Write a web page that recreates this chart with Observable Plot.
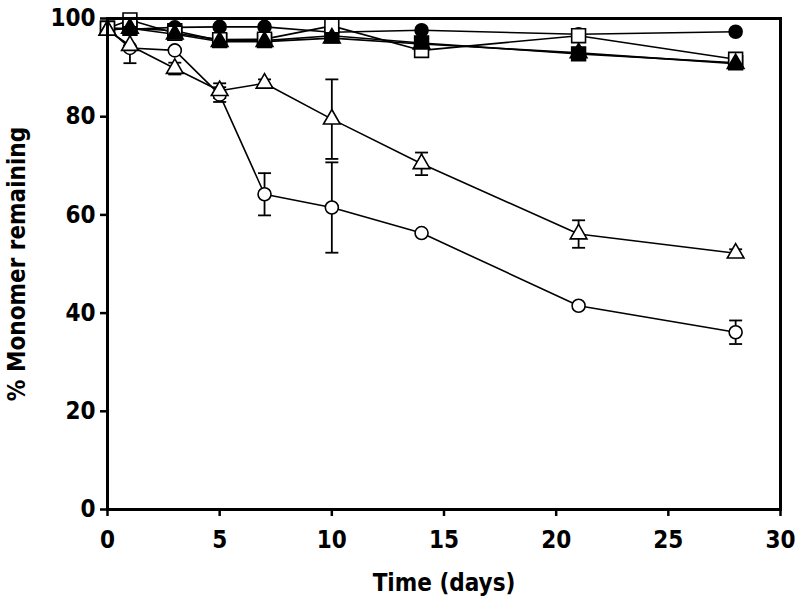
<!DOCTYPE html>
<html>
<head>
<meta charset="utf-8">
<script src="https://cdn.jsdelivr.net/npm/d3@7"></script>
<script src="https://cdn.jsdelivr.net/npm/@observablehq/plot@0.6"></script>
<style>
  html, body { margin: 0; padding: 0; background: #fff; }
  #chart svg { display: block; }
</style>
</head>
<body>
<div id="chart"></div>
<script>
// ---- data ----
const days = [0, 1, 3, 5, 7, 10, 14, 21, 28];
const xTicks = [0, 5, 10, 15, 20, 25, 30];
const yTicks = [0, 20, 40, 60, 80, 100];

const openCircle      = [98, 94, 93.5, 84.5, 64.2, 61.5, 56.3, 41.5, 36.1];
const openCircleErr   = [0, 0, 0, 1.5, 4.3, 9.2, 0, 0, 2.4];
const openTriangle    = [97.6, 94.5, 89.8, 85.3, 86.8, 79.5, 70.4, 56.1, 52.2];
const openTriangleErr = [0, 3.6, 1.2, 1.5, 0.8, 8.1, 2.3, 2.8, 0.8];
const filledCircle    = [98, 97.8, 98.2, 98.3, 98.3, 97.2, 97.6, 96.8, 97.3];
const filledSquare    = [98, 98, 97.5, 95.5, 95.5, 96.5, 95, 92.8, 91];
const openSquare      = [98, 99.7, 97, 95.7, 95.8, 98.5, 93.5, 96.5, 91.7];
const filledTriangle  = [97.6, 98, 96.8, 95.3, 95.3, 96, 94.8, 93, 90.8];

// drawing order: later series are drawn on top
const seriesNames = ["open circle", "filled circle", "filled square", "open square", "filled triangle", "open triangle"];
const seriesValues = [openCircle, filledCircle, filledSquare, openSquare, filledTriangle, openTriangle];
const seriesErrors = [openCircleErr, null, null, null, null, openTriangleErr];

// ---- styles ----
const styles = {
  "open circle":     {symbol: "circle",   fill: "white", r: 6.5},
  "open triangle":   {symbol: "triangle", fill: "white", r: 6.2},
  "filled circle":   {symbol: "circle",   fill: "black", r: 6.5},
  "filled square":   {symbol: "square",   fill: "black", r: 7.8},
  "open square":     {symbol: "square",   fill: "white", r: 7.8},
  "filled triangle": {symbol: "triangle", fill: "black", r: 6.2}
};

const rows = [];
seriesNames.forEach((name, i) => {
  days.forEach((d, j) => {
    const err = seriesErrors[i] ? seriesErrors[i][j] : 0;
    rows.push({series: name, day: d, value: seriesValues[i][j], err});
  });
});
const errRows = rows.filter(r => r.err > 0);

const cap = {
  draw(context) {
    context.moveTo(-6.5, 0);
    context.lineTo(6.5, 0);
  }
};

const marks = [
  Plot.line(rows, {x: "day", y: "value", z: "series", stroke: "black", strokeWidth: 1.6}),
  Plot.ruleX(errRows, {x: "day", y1: d => d.value - d.err, y2: d => d.value + d.err, stroke: "black", strokeWidth: 1.8}),
  Plot.dot(errRows, {x: "day", y: d => d.value - d.err, symbol: cap, stroke: "black", strokeWidth: 1.8}),
  Plot.dot(errRows, {x: "day", y: d => d.value + d.err, symbol: cap, stroke: "black", strokeWidth: 1.8})
];
seriesNames.forEach(name => {
  const s = styles[name];
  marks.push(Plot.dot(rows.filter(r => r.series === name), {
    x: "day", y: "value", symbol: s.symbol, r: s.r,
    fill: s.fill, stroke: "black", strokeWidth: 1.6
  }));
});
marks.push(
  Plot.frame({stroke: "black", strokeWidth: 3}),
  Plot.axisX({ticks: xTicks, tickSize: 7, tickPadding: 14, strokeWidth: 2.5,
    label: "Time (days)", labelAnchor: "center", labelOffset: 81, labelArrow: "none"}),
  Plot.axisY({ticks: yTicks, tickSize: 7, tickPadding: 5, strokeWidth: 2.5,
    label: "% Monomer remaining", labelAnchor: "center", labelOffset: 100, labelArrow: "none"})
);

const chart = Plot.plot({
  width: 800,
  height: 614,
  marginLeft: 107,
  marginRight: 20,
  marginTop: 18,
  marginBottom: 105,
  x: {domain: [0, 30]},
  y: {domain: [0, 100]},
  style: {
    fontFamily: "'Liberation Sans Narrow', 'DejaVu Sans Condensed', 'Liberation Sans', Arial, sans-serif",
    fontSize: "24px",
    fontWeight: "bold",
    color: "black",
    background: "white",
    overflow: "visible"
  },
  marks
});
document.getElementById("chart").appendChild(chart);
</script>
</body>
</html>
